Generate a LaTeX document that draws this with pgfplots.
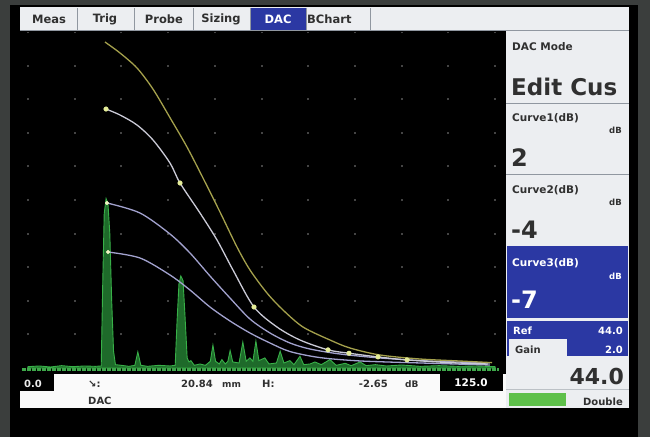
\documentclass[border=0pt]{standalone}
\usepackage{pgfplots}
\pgfplotsset{compat=1.18}
\usepackage{fontspec}
\setmainfont{DejaVu Sans}
\definecolor{bggray}{HTML}{3B3E3D}
\definecolor{panel}{HTML}{ECEEF1}
\definecolor{tabblue}{HTML}{2B38A3}
\definecolor{sepgray}{HTML}{9097A0}
\definecolor{txt}{HTML}{303030}
\definecolor{dots}{HTML}{444444}
\definecolor{sigline}{HTML}{38B048}
\definecolor{sigfill}{HTML}{1E6A2A}
\definecolor{basegreen}{HTML}{3EA84A}
\definecolor{curveone}{HTML}{A4A04C}
\definecolor{refcurve}{HTML}{CACAD6}
\definecolor{curvelow}{HTML}{A2A2CE}
\definecolor{markyel}{HTML}{E4EC98}
\definecolor{okgreen}{HTML}{5EC04A}
\newcommand{\F}[1]{\fontsize{#1}{#1}\selectfont\bfseries}

\begin{document}
\begin{tikzpicture}
\begin{scope}[x=1pt,y=-1pt]
\fill[bggray] (0,0) rectangle (650,437);
\fill[black] (10,5) rectangle (638,437);
% tab bar
\fill[panel] (20,7) rectangle (629,30);
\fill[tabblue] (250,8) rectangle (306,30);
\foreach \x in {77,134,193,250,306,370} \draw[sepgray, line width=0.8pt] (\x,8) -- (\x,30);
\draw[sepgray, line width=0.8pt] (20,30.4) -- (629,30.4);
\node[text=txt, font=\F{11.5}, inner sep=0] at (49,19) {Meas};
\node[text=txt, font=\F{11.5}, inner sep=0] at (105,19) {Trig};
\node[text=txt, font=\F{11.5}, inner sep=0] at (164,19) {Probe};
\node[text=txt, font=\F{11.5}, inner sep=0] at (221,19) {Sizing};
\node[text=white, font=\F{11.5}, inner sep=0] at (278,19) {DAC};
\node[text=txt, font=\F{11.5}, inner sep=0, anchor=west] at (307,19) {BChart};
% right panel
\fill[panel] (506,31) rectangle (629,408);
\node[text=txt, font=\F{10.5}, inner sep=0, anchor=base west] at (512,50) {DAC Mode};
\node[text=txt, font=\F{23}, inner sep=0, anchor=base west] at (511,95) {Edit Cus};
\draw[sepgray, line width=1pt] (506,103) -- (629,103);
\node[text=txt, font=\F{10.5}, inner sep=0, anchor=base west] at (512,121) {Curve1(dB)};
\node[text=txt, font=\F{8.5}, inner sep=0, anchor=base east] at (622,133) {dB};
\node[text=txt, font=\F{24}, inner sep=0, anchor=base west] at (511,166) {2};
\draw[sepgray, line width=1pt] (506,174) -- (629,174);
\node[text=txt, font=\F{10.5}, inner sep=0, anchor=base west] at (512,193) {Curve2(dB)};
\node[text=txt, font=\F{8.5}, inner sep=0, anchor=base east] at (622,205) {dB};
\node[text=txt, font=\F{24}, inner sep=0, anchor=base west] at (511,238) {-4};
\fill[tabblue] (507,246) rectangle (628,318);
\node[text=white, font=\F{10.5}, inner sep=0, anchor=base west] at (512,266) {Curve3(dB)};
\node[text=white, font=\F{8.5}, inner sep=0, anchor=base east] at (622,279) {dB};
\node[text=white, font=\F{24}, inner sep=0, anchor=base west] at (511,308) {-7};
\fill[tabblue] (507,321) rectangle (628,356);
\fill[panel] (509,339) rectangle (567,358);
\node[text=white, font=\F{10}, inner sep=0, anchor=base west] at (513,334) {Ref};
\node[text=white, font=\F{10}, inner sep=0, anchor=base east] at (623,334) {44.0};
\node[text=txt, font=\F{10}, inner sep=0, anchor=base west] at (515,353) {Gain};
\node[text=white, font=\F{10}, inner sep=0, anchor=base east] at (623,353) {2.0};
\node[text=txt, font=\F{22}, inner sep=0, anchor=base east] at (624,384) {44.0};
\draw[sepgray!60, line width=1pt] (506,389) -- (629,389);
\fill[okgreen] (509,393) rectangle (566,406);
\node[text=txt, font=\F{10}, inner sep=0, anchor=base east] at (623,405) {Double};
% status bar
\fill[white!96!gray] (20,374) rectangle (506,408);
\fill[black] (20,374) rectangle (54,391);
\node[text=white!85!gray, font=\F{10}, inner sep=0, anchor=base west] at (24,387) {0.0};
\node[text=txt, font=\F{10}, inner sep=0, anchor=base west] at (88,387) {↘:};
\node[text=txt, font=\F{10}, inner sep=0, anchor=base east] at (213,387) {20.84};
\node[text=txt, font=\F{9}, inner sep=0, anchor=base west] at (222,387) {mm};
\node[text=txt, font=\F{10}, inner sep=0, anchor=base west] at (262,387) {H:};
\node[text=txt, font=\F{10}, inner sep=0, anchor=base east] at (388,387) {-2.65};
\node[text=txt, font=\F{9}, inner sep=0, anchor=base west] at (405,387) {dB};
\fill[black] (440,374) rectangle (503,391);
\node[text=white, font=\F{10.5}, inner sep=0] at (471,383) {125.0};
\node[text=txt, font=\F{10}, inner sep=0, anchor=base west] at (88,404) {DAC};
\end{scope}

\begin{axis}[
  at={(28pt,-368pt)}, anchor=south west,
  scale only axis, width=467pt, height=336pt,
  xmin=0, xmax=125, ymin=0, ymax=100,
  xtick={0,12.5,...,125}, ytick={0,10,...,100},
  xticklabels={}, yticklabels={},
  major tick length=0pt,
  axis line style={draw=none},
  xmajorgrids=true, ymajorgrids=false,
  major grid style={draw=dots, line width=2pt, dash pattern=on 2pt off 31.6pt, dash phase=1pt},
  clip=false,
]
% A-scan signal
\addplot[draw=sigline, fill=sigfill, line width=0.9pt] coordinates {
(0,0.4)(3,0.6)(6,0.3)(9,0.7)(12,0.4)(15,0.6)(18,0.5)(19.6,0.6)(20.0,25)(20.4,46)(20.9,50.4)(21.4,49)(21.9,40)(22.4,20)(22.9,5)(23.4,1)(25,0.8)(27,0.5)(28.6,0.8)(29.4,4.8)(30.2,0.8)(32,0.5)(35,0.8)(38,0.6)(39.4,0.8)(39.9,14)(40.4,25)(40.9,27.4)(41.5,26)(42.0,16)(42.6,3)(43.1,1.8)(43.6,2.2)(44.5,0.8)(46,1.2)(47.5,0.8)(48.8,2)(49.5,6.8)(50.2,2)(51.2,1.2)(51.9,2.5)(52.8,1.2)(53.5,2)(54.1,5.2)(54.8,1.8)(56.5,1.5)(57.5,7.7)(58.4,2)(59.4,3)(60.2,2)(61.0,8)(61.8,2.2)(63.4,3)(64.5,1.2)(66.5,1.5)(67.5,5)(68.5,1.5)(70.1,2.2)(71.2,1)(72.8,3.5)(73.8,1)(75.5,1.2)(76.8,1.8)(78.5,1)(80.8,2.5)(82.5,0.8)(84.9,1.4)(86.5,0.7)(88.9,1.8)(90.5,0.7)(93,1)(96,0.6)(100,0.9)(105,0.5)(110,0.7)(115,0.5)(120,0.6)(125,0.4)
} \closedcycle;
% baseline
\addplot[draw=basegreen, line width=3pt, dash pattern=on 3.5pt off 1.5pt] coordinates {(-1.5,-0.4)(126,-0.4)};
% Curve3 (-7 dB)
\addplot[draw=curvelow, line width=1.3pt, smooth] coordinates {
(21.41,34.52)(29.98,32.74)(38.01,27.68)(43.36,23.21)(48.72,18.15)(54.07,13.99)(59.42,10.42)(64.78,7.44)(70.13,4.9)(78.16,3.1)(88.87,2.1)(104.93,1.5)(123.66,0.9)
};
% Curve2 (-4 dB)
\addplot[draw=curvelow, line width=1.3pt, smooth] coordinates {
(21.15,49.11)(29.98,46.13)(38.01,39.88)(43.36,34.23)(48.72,27.38)(54.07,20.83)(59.42,14.58)(64.78,10.42)(70.13,7.44)(75.48,5.65)(83.51,4.17)(94.22,2.98)(107.60,2.08)(123.66,1.49)
};
% reference DAC curve
\addplot[draw=refcurve, line width=1.3pt, smooth] coordinates {
(20.88,77.08)(24.63,75.30)(29.18,72.32)(33.46,67.86)(38.01,61.01)(40.69,55.06)(46.04,46.13)(50.59,38.10)(54.87,29.17)(60.49,18.15)(66.65,12.20)(72.81,8.33)(80.30,5.4)(85.92,4.4)(93.68,3.3)(101.45,2.4)(112.96,1.6)(123.13,1.2)
};
% Curve1 (+2 dB)
\addplot[draw=curveone, line width=1.3pt, smooth] coordinates {
(20.61,97.02)(24.63,93.75)(29.18,89.29)(33.46,83.0)(38.01,74.5)(42.56,65.77)(46.84,56.55)(51.39,46.43)(55.94,36.01)(59.42,29.17)(63.97,22.32)(68.26,17.26)(73.61,12.20)(80.84,8.33)(86.19,5.95)(94.22,3.87)(104.93,2.68)(115.63,2.08)(124.2,1.6)
};
% DAC points
\addplot[only marks, mark=*, mark size=2.3pt, mark options={draw=markyel, fill=markyel}] coordinates {
(20.88,77.08)(40.69,55.06)(60.49,18.15)(80.30,5.4)(85.92,4.4)(93.68,3.3)(101.45,2.4)
};
\addplot[only marks, mark=*, mark size=1.8pt, mark options={draw=markyel!60!white, fill=markyel!60!white}] coordinates {
(21.15,49.11)(21.41,34.52)
};
\end{axis}
\end{tikzpicture}
\end{document}
